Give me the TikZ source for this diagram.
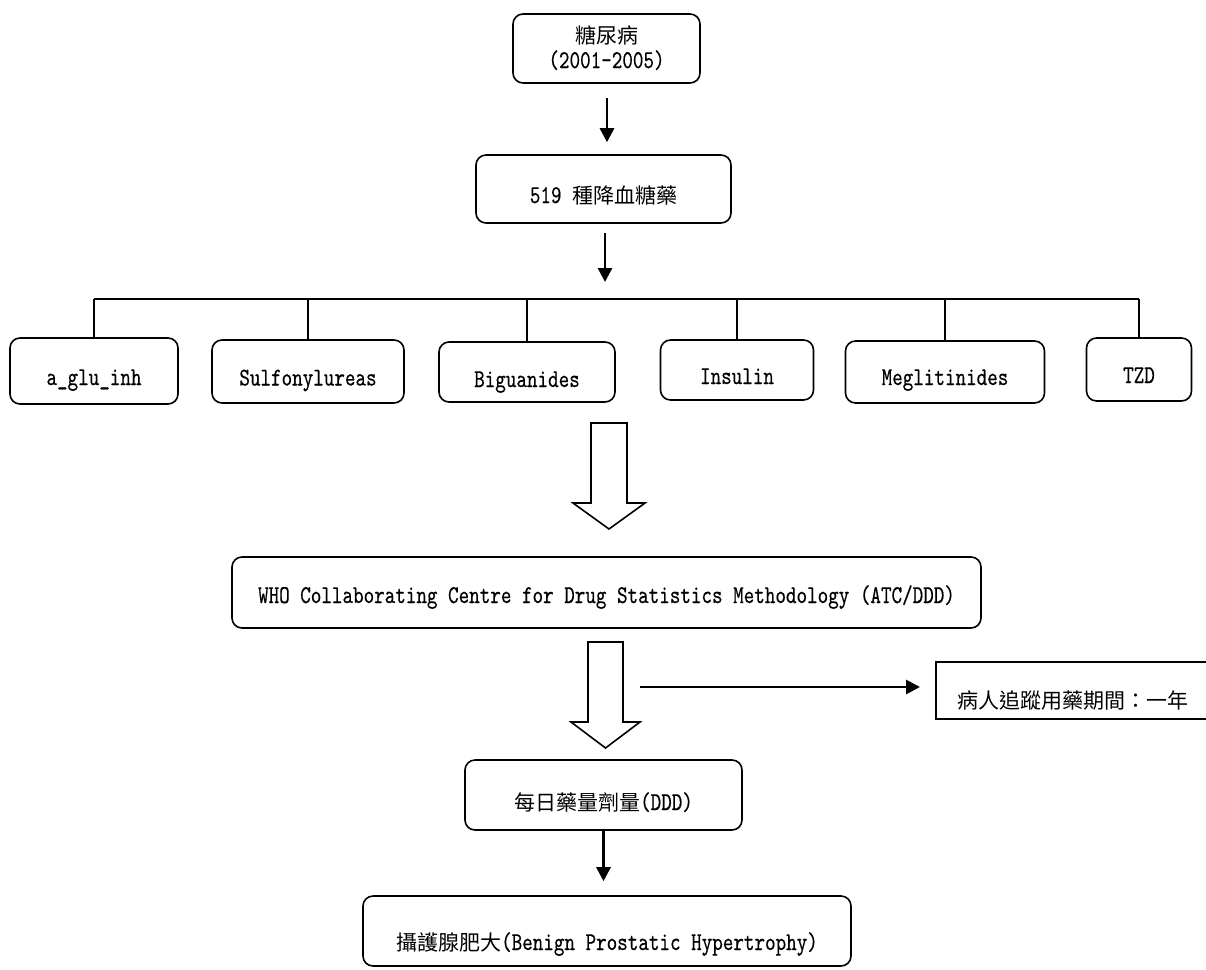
\documentclass[tikz,border=0pt]{standalone}
\usepackage{fontspec}
\setmainfont{lmmono10-regular.otf}[Scale=1.22, FakeStretch=0.785, FakeBold=0.4]
\newfontfamily\cjk{Noto Sans CJK TC}
\usetikzlibrary{arrows.meta}
\newcommand\bt[2]{\raisebox{-#1pt}[0pt][0pt]{#2}}
\begin{document}
\begin{tikzpicture}[x=1pt, y=-1pt,
  rbox/.style={draw, line width=1.6pt, rounded corners=10pt, inner sep=0pt,
    font=\fontsize{21}{22}\selectfont, align=center},
  sbox/.style={draw, line width=1.6pt, inner sep=0pt, font=\fontsize{21}{22}\selectfont},
  arr/.style={line width=2.8pt, -{Triangle[width=14pt,length=14pt]}},
  link/.style={line width=1.8pt},
  hollow/.style={draw, line width=1.6pt, fill=white, line join=miter}]
\useasboundingbox (0,0) rectangle (1206,969);

% top boxes
\node[rbox, minimum width=187pt, minimum height=69pt] (dm) at (606.5,48.5)
  {\bt{19.5}{\begin{tabular}[b]{@{}c@{}}{\cjk 糖尿病}\\(2001-2005)\end{tabular}}};
\node[rbox, minimum width=255pt, minimum height=68pt] (drugs) at (603.5,189)
  {\bt{14}{519 {\cjk 種降血糖藥}}};

% classes
\node[rbox, minimum width=168pt, minimum height=66pt] (c1) at (94,371) {\bt{14}{a\_glu\_inh}};
\node[rbox, minimum width=192pt, minimum height=63pt] (c2) at (308,371.5) {\bt{14}{Sulfonylureas}};
\node[rbox, minimum width=176pt, minimum height=60pt] (c3) at (527,372) {\bt{15}{Biguanides}};
\node[rbox, minimum width=153pt, minimum height=60pt] (c4) at (737,370) {\bt{14}{Insulin}};
\node[rbox, minimum width=199pt, minimum height=62pt] (c5) at (945,372) {\bt{13}{Meglitinides}};
\node[rbox, minimum width=105pt, minimum height=63pt] (c6) at (1139,369.5) {\bt{13.5}{TZD}};

% WHO
\node[rbox, minimum width=749pt, minimum height=71pt] (who) at (606.5,592.5)
  {\bt{10.5}{WHO Collaborating Centre for Drug Statistics Methodology (ATC/DDD)}};

% follow-up
\node[sbox, anchor=north west, minimum height=57pt, text width=256pt, inner xsep=22pt, align=left]
  (fu) at (935,661) {\bt{18.5}{\cjk 病人追蹤用藥期間：一年}};

% DDD
\node[rbox, minimum width=277pt, minimum height=70pt] (ddd) at (603.5,795)
  {\bt{15}{{\cjk 每日藥量劑量}(DDD)}};

% BPH
\node[rbox, minimum width=488pt, minimum height=70pt] (bph) at (607,931)
  {\bt{19}{{\cjk 攝護腺肥大}(Benign Prostatic Hypertrophy)}};

% connectors
\coordinate (bar) at (605,299);
\draw[arr, shorten <=14pt, shorten >=12pt] ([xshift=0.5pt]dm.south) -- ([xshift=0.5pt]dm.south |- drugs.north);
\draw[arr, shorten <=9pt, shorten >=17pt] ([xshift=1.5pt]drugs.south) -- ([xshift=1.5pt]drugs.south |- bar);
\draw[link] (c1.north |- bar) -- (c6.north |- bar);
\foreach \c in {c1,c2,c3,c4,c5,c6}
  \draw[link] (\c.north) -- (\c.north |- bar);

% hollow arrows
\draw[hollow] (591,423) -- (627,423) -- (627,503) -- (645,503) -- (609,529)
  -- (573,503) -- (591,503) -- cycle;
\draw[hollow] (588,642) -- (623,642) -- (623,722) -- (640,722) -- (605.5,748)
  -- (571,722) -- (588,722) -- cycle;

\coordinate (h2r) at (623,687);
\draw[arr, shorten <=17pt, shorten >=15pt] (h2r) -- (h2r -| fu.west);
\draw[arr, shorten >=14pt] (ddd.south) -- (ddd.south |- bph.north);
\end{tikzpicture}
\end{document}
